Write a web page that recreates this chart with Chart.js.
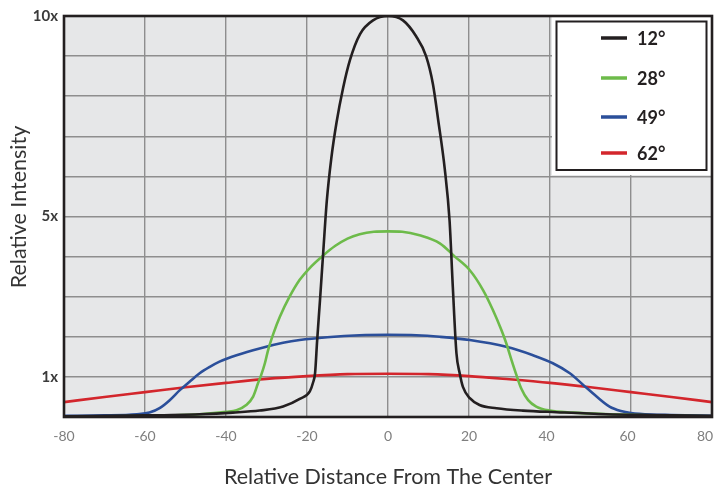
<!DOCTYPE html>
<html>
<head>
<meta charset="utf-8">
<script src="https://cdn.jsdelivr.net/npm/chart.js@4.4.0/dist/chart.umd.min.js"></script>
<style>
  html, body { margin: 0; padding: 0; background: #ffffff; }
  #wrap { width: 716px; height: 488px; }
</style>
</head>
<body>
<div id="wrap"><canvas id="c" width="716" height="488"></canvas></div>
<script>
// ---------- DATA ----------
const seriesNames = ['12°', '28°', '49°', '62°'];
const seriesColors = ['#231f20', '#6dbb4a', '#2b4f9a', '#d3262c'];

const x12 = [-80, -60, -46.5, -38.3, -31.7, -25.9, -21.8, -19.3, -18.5, -18, -17.5, -16.8, -16, -15.1, -14, -12.7, -11.1, -9.4, -6.9, -3.7, 0,
             3.7, 6.9, 9.4, 11.1, 12.4, 14, 15.2, 16.0, 16.9, 17.7, 18.5, 20.2, 22.6, 26.8, 33.3, 41.6, 53.9, 65, 80];
const y12 = [0.02, 0.04, 0.07, 0.11, 0.16, 0.26, 0.45, 0.64, 0.86, 1.1, 1.9, 2.9, 4.1, 5.4, 6.45, 7.35, 8.2, 8.9, 9.55, 9.89, 10,
             9.89, 9.5, 9.0, 8.3, 7.4, 6.2, 4.9, 3.25, 1.59, 1.09, 0.75, 0.47, 0.30, 0.22, 0.16, 0.12, 0.07, 0.05, 0.03];

const x28 = [-80, -70, -58.8, -46.5, -39.9, -37.4, -35, -33.3, -32.1, -31.3, -30.4, -29.6, -28.3, -26.7, -24.3, -21.8, -19, -16, -13, -10, -7, -3.5, 0,
             3.5, 7.8, 12.8, 16.5, 20.2, 23.5, 25.9, 28.0, 29.2, 30.5, 31.7, 32.9, 34.6, 36.6, 39.9, 45.7, 54.7, 65, 80];
const y28 = [0.02, 0.02, 0.03, 0.07, 0.13, 0.17, 0.30, 0.51, 0.84, 1.05, 1.34, 1.67, 2.08, 2.50, 3.0, 3.42, 3.75, 4.03, 4.27, 4.45, 4.56, 4.62, 4.63,
             4.62, 4.53, 4.33, 4.0, 3.66, 3.16, 2.67, 2.17, 1.84, 1.42, 1.05, 0.71, 0.42, 0.26, 0.16, 0.11, 0.07, 0.04, 0.02];

const x49 = [-80, -70, -62, -58.9, -56.4, -53.9, -51.4, -49, -46.5, -44, -41.6, -37.4, -31.7, -25.9, -21.8, -15, -7, 0,
             7, 12.8, 20.2, 29.2, 35.8, 40.7, 44.9, 48.2, 51.5, 54.7, 57.5, 60, 65, 70, 80];
const y49 = [0.03, 0.04, 0.07, 0.11, 0.22, 0.42, 0.67, 0.88, 1.09, 1.25, 1.38, 1.54, 1.71, 1.85, 1.92, 1.99, 2.04, 2.05,
             2.04, 2.0, 1.92, 1.75, 1.54, 1.34, 1.09, 0.80, 0.51, 0.26, 0.15, 0.1, 0.06, 0.05, 0.03];

const x62 = [-80, -70, -60, -50, -40, -30, -20, -10, 0, 10, 20, 30, 40, 50, 60, 70, 80];
const y62 = [0.37, 0.5, 0.62, 0.74, 0.85, 0.95, 1.02, 1.07, 1.08, 1.07, 1.02, 0.94, 0.85, 0.74, 0.62, 0.5, 0.37];

const yLabelValues = [1, 5, 10];
const yLabelTexts = ['1x', '5x', '10x'];

const xTitle = 'Relative Distance From The Center';
const yTitle = 'Relative Intensity';

// ---------- BUILD ----------
const xs = [x12, x28, x49, x62];
const ys = [y12, y28, y49, y62];
const datasets = seriesNames.map((name, i) => ({
  label: name,
  data: xs[i].map((x, j) => ({ x: x, y: ys[i][j] })),
  borderColor: seriesColors[i],
  backgroundColor: seriesColors[i],
  borderWidth: 2.6,
  pointRadius: 0,
  fill: false,
  cubicInterpolationMode: 'monotone',
  order: i
}));

// small right-side nudges for the last x labels so "80" is not cut by the canvas edge
const xLabelPad = { 40: '\u2002', 60: '\u2002', 80: '\u2002\u2002' };

const plotBg = {
  id: 'plotBg',
  beforeDraw(chart) {
    const { ctx, chartArea: a } = chart;
    ctx.save();
    ctx.fillStyle = '#e6e7e8';
    ctx.fillRect(a.left, a.top, a.right - a.left, a.bottom - a.top);
    ctx.restore();
  }
};

const legendAndFrame = {
  id: 'legendAndFrame',
  afterDraw(chart) {
    const { ctx, chartArea: a } = chart;
    ctx.save();
    // y-axis title
    ctx.fillStyle = '#333333';
    ctx.font = '21.5px Lato, "Noto Sans", sans-serif';
    ctx.textAlign = 'center';
    ctx.textBaseline = 'middle';
    ctx.translate(19, 207);
    ctx.rotate(-Math.PI / 2);
    ctx.fillText(yTitle, 0, 0);
    ctx.setTransform(1, 0, 0, 1, 0, 0);
    // legend box
    ctx.fillStyle = '#ffffff';
    ctx.fillRect(552, 17, 159, 158);
    ctx.strokeStyle = '#231f20';
    ctx.lineWidth = 2;
    ctx.strokeRect(556.5, 21.5, 150, 148.5);
    const rows = [38, 78, 117, 153];
    chart.data.datasets.forEach((ds, i) => {
      const y = rows[i];
      ctx.strokeStyle = ds.borderColor;
      ctx.lineWidth = 3.5;
      ctx.beginPath();
      ctx.moveTo(601, y);
      ctx.lineTo(627, y);
      ctx.stroke();
      ctx.fillStyle = '#231f20';
      ctx.font = 'bold 18px Lato, "Noto Sans", sans-serif';
      ctx.textBaseline = 'middle';
      ctx.textAlign = 'left';
      ctx.fillText(ds.label, 637, y + 1);
    });
    // frame
    ctx.strokeStyle = '#231f20';
    ctx.lineWidth = 2.6;
    ctx.strokeRect(a.left, a.top, a.right - a.left, a.bottom - a.top);
    ctx.restore();
  }
};

new Chart(document.getElementById('c'), {
  type: 'line',
  data: { datasets: datasets },
  options: {
    responsive: false,
    animation: false,
    devicePixelRatio: 1,
    layout: { padding: { top: 16, right: 4, left: 0, bottom: 0 } },
    plugins: { legend: { display: false }, tooltip: { enabled: false } },
    scales: {
      x: {
        type: 'linear',
        min: -80, max: 80,
        ticks: {
          stepSize: 20, autoSkip: false, maxRotation: 0,
          color: '#7f7f7f', padding: 11,
          font: { family: 'Lato', size: 14, weight: 'normal' },
          callback(v) { return String(v) + (xLabelPad[v] || ''); }
        },
        grid: { color: '#8e8e8e', lineWidth: 1.4, drawTicks: false },
        border: { display: false },
        title: {
          display: true, text: xTitle, color: '#333333',
          font: { family: 'Lato', size: 21.5, lineHeight: 1 }, padding: { top: 0, bottom: 0 }
        },
        afterFit(s) { s.height = 71; s.paddingLeft = 0; s.paddingRight = 0; }
      },
      y: {
        type: 'linear',
        min: 0, max: 10,
        ticks: {
          stepSize: 1, autoSkip: false, padding: 6,
          color: '#3a3a3a',
          font: { family: 'Lato', size: 15, weight: 'bold' },
          callback(v) {
            const k = yLabelValues.indexOf(v);
            return k >= 0 ? yLabelTexts[k] : '';
          }
        },
        grid: { color: '#8e8e8e', lineWidth: 1.4, drawTicks: false },
        border: { display: false },
        title: { display: false },
        afterFit(s) { s.width = 64; s.paddingTop = 0; s.paddingBottom = 0; }
      }
    }
  },
  plugins: [plotBg, legendAndFrame]
});
</script>
</body>
</html>
